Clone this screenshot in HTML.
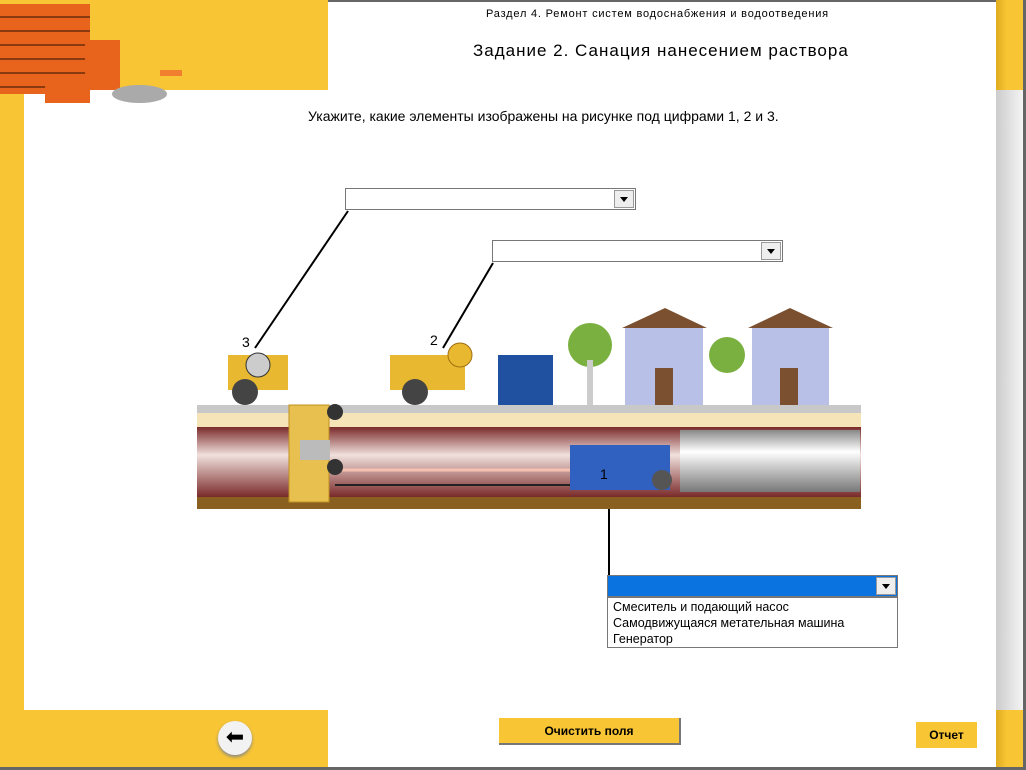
<!DOCTYPE html>
<html><head><meta charset="utf-8"><style>
body{margin:0;width:1026px;height:770px;position:relative;overflow:hidden;background:#fff;font-family:"Liberation Sans",sans-serif}
div{position:absolute;box-sizing:border-box}
.y{background:#f8c535}
.dd{background:#fff;border:1px solid #777;height:22px}
.dd b{position:absolute;right:1px;top:1px;width:20px;height:18px;background:#eee;border:1px solid #999;box-sizing:border-box}
.dd b:after{content:"";position:absolute;left:5px;top:6px;border-left:4px solid transparent;border-right:4px solid transparent;border-top:5px solid #000}
</style></head><body>
<div style="left:0;top:0;width:1026px;height:2px;background:#666"></div>
<div class="y" style="left:0;top:0;width:24px;height:770px"></div>
<div class="y" style="left:0;top:0;width:328px;height:90px"></div>
<div class="y" style="left:0;top:710px;width:328px;height:60px"></div>
<div style="left:996px;top:90px;width:27px;height:620px;background:linear-gradient(90deg,#ccc,#f4f4f4)"></div>
<div class="y" style="left:996px;top:0;width:27px;height:90px;background:linear-gradient(90deg,#e0ac20,#f8c535 40%)"></div>
<div class="y" style="left:996px;top:710px;width:27px;height:60px;background:linear-gradient(90deg,#e0ac20,#f8c535 40%)"></div>
<div style="left:1023px;top:0;width:3px;height:770px;background:#666"></div>
<div style="left:0;top:767px;width:1026px;height:3px;background:#666"></div>
<!-- bricks -->
<div style="left:0;top:4px;width:90px;height:90px;background:repeating-linear-gradient(180deg,#e8641c 0 12px,#8a3a10 12px 14px)"></div>
<div style="left:85px;top:40px;width:35px;height:50px;background:#e8641c"></div>
<div style="left:45px;top:78px;width:45px;height:25px;background:#e8641c"></div>
<div style="left:112px;top:85px;width:55px;height:18px;border-radius:50%;background:#aaa"></div>
<div style="left:160px;top:70px;width:22px;height:6px;background:#f08030"></div>
<div style="left:486px;top:8px;font-size:11px;color:#000;letter-spacing:.8px">Раздел 4. Ремонт систем водоснабжения и водоотведения</div>
<div style="left:473px;top:41px;font-size:17px;color:#000;letter-spacing:1px">Задание 2. Санация нанесением раствора</div>
<div style="left:308px;top:108px;font-size:14px">Укажите, какие элементы изображены на рисунке под цифрами 1, 2 и 3.</div>
<div class="dd" style="left:345px;top:188px;width:291px"><b></b></div>
<div class="dd" style="left:492px;top:240px;width:291px"><b></b></div>
<div class="dd" style="left:607px;top:575px;width:291px;background:#0a73e0"><b></b></div>
<div style="left:607px;top:597px;width:291px;height:51px;border:1px solid #777;font-size:12.5px;line-height:16px;padding:1px 5px">Смеситель и подающий насос<br>Самодвижущаяся метательная машина<br>Генератор</div>
<svg style="position:absolute;left:0;top:0" width="1026" height="770">
<line x1="348" y1="211" x2="255" y2="348" stroke="#000" stroke-width="2"/>
<line x1="493" y1="263" x2="443" y2="348" stroke="#000" stroke-width="2"/>
<line x1="609" y1="480" x2="609" y2="575" stroke="#000" stroke-width="2"/>
<rect x="197" y="405" width="664" height="8" fill="#c8c8c8"/>
<rect x="197" y="413" width="664" height="14" fill="#f4e4b8"/>
<defs><linearGradient id="p" x1="0" y1="0" x2="0" y2="1"><stop offset="0" stop-color="#7a2a2a"/><stop offset=".4" stop-color="#f0e0dc"/><stop offset="1" stop-color="#7a2a2a"/></linearGradient>
<linearGradient id="g" x1="0" y1="0" x2="0" y2="1"><stop offset="0" stop-color="#888"/><stop offset=".35" stop-color="#fff"/><stop offset="1" stop-color="#777"/></linearGradient></defs>
<rect x="197" y="427" width="664" height="70" fill="url(#p)"/>
<rect x="197" y="497" width="664" height="12" fill="#8a6020"/>
<rect x="680" y="430" width="180" height="62" fill="url(#g)"/>
<rect x="289" y="405" width="40" height="97" fill="#e8c050" stroke="#c09020"/>
<rect x="300" y="440" width="30" height="20" fill="#bbb"/>
<line x1="335" y1="470" x2="570" y2="470" stroke="#f5c0b0" stroke-width="3"/>
<line x1="335" y1="485" x2="570" y2="485" stroke="#222" stroke-width="2"/>
<rect x="570" y="445" width="100" height="45" fill="#3060c0"/>
<circle cx="335" cy="412" r="8" fill="#333"/><circle cx="335" cy="467" r="8" fill="#333"/>
<circle cx="662" cy="480" r="10" fill="#555"/>
<rect x="228" y="355" width="60" height="35" fill="#e8b830"/><circle cx="245" cy="392" r="13" fill="#444"/><circle cx="258" cy="365" r="12" fill="#ccc" stroke="#333"/>
<rect x="390" y="355" width="75" height="35" fill="#e8b830"/><circle cx="415" cy="392" r="13" fill="#444"/><circle cx="460" cy="355" r="12" fill="#e8b830" stroke="#a07010"/>
<rect x="498" y="355" width="55" height="50" fill="#2050a0"/>
<circle cx="590" cy="345" r="22" fill="#7ab040"/><rect x="587" y="360" width="6" height="45" fill="#ccc"/>
<rect x="625" y="328" width="78" height="77" fill="#b8c0e8"/><polygon points="622,328 665,308 707,328" fill="#7a5030"/>
<rect x="655" y="368" width="18" height="37" fill="#7a5030"/>
<circle cx="727" cy="355" r="18" fill="#7ab040"/>
<rect x="752" y="328" width="77" height="77" fill="#b8c0e8"/><polygon points="748,328 790,308 833,328" fill="#7a5030"/>
<rect x="780" y="368" width="18" height="37" fill="#7a5030"/>
<text x="242" y="347" font-size="14" font-family="Liberation Sans">3</text>
<text x="430" y="345" font-size="14" font-family="Liberation Sans">2</text>
<text x="600" y="479" font-size="14" font-family="Liberation Sans">1</text>
</svg>
<div style="left:218px;top:721px;width:34px;height:34px;border-radius:50%;background:#f2f2f2;box-shadow:0 2px 3px #888;font-size:22px;text-align:center;line-height:32px">⬅</div>
<div class="y" style="left:499px;top:718px;width:182px;height:27px;border-right:2px solid #777;border-bottom:2px solid #777;font-size:12px;font-weight:bold;text-align:center;line-height:26px">Очистить поля</div>
<div class="y" style="left:916px;top:722px;width:61px;height:26px;font-size:12px;font-weight:bold;text-align:center;line-height:26px">Отчет</div>
</body></html>
